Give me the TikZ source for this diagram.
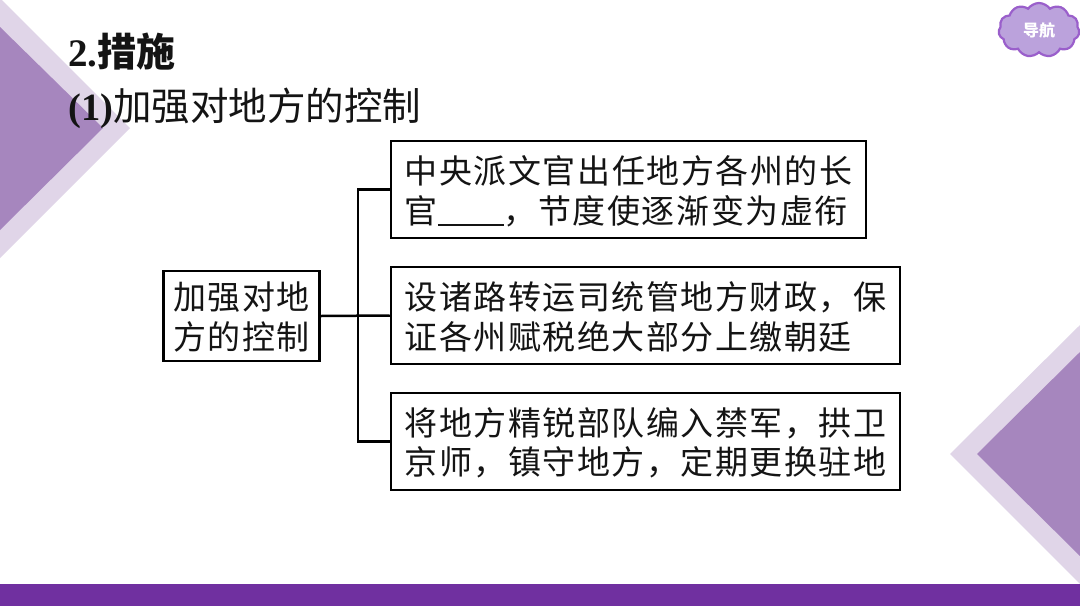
\documentclass[tikz,border=0pt]{standalone}
\usepackage{fontspec}
\usetikzlibrary{shapes.symbols}
\setmainfont{Liberation Serif}
\newfontfamily\cjk{Noto Sans CJK SC}
\newfontfamily\cjkbox[LetterSpace=4.6]{Noto Sans CJK SC}
\definecolor{lightpurple}{HTML}{E0D5E8}
\definecolor{midpurple}{HTML}{A686BE}
\definecolor{barpurple}{HTML}{7030A0}
\definecolor{cloudfill}{HTML}{BBA2DC}
\definecolor{cloudline}{HTML}{9A5FCB}
\newcommand\boxlines[1]{\vbox{\kern11pt\hbox{\begin{tabular}{@{}l@{}}#1\end{tabular}}}}
\tikzset{
  boxnode/.style={draw=black,line width=2.5pt,fill=white,inner sep=0pt,
    text=black!92,font=\cjkbox\fontsize{33}{38.5}\selectfont},
  link/.style={draw=black,line width=2.5pt,line join=miter},
  titletext/.style={anchor=west,inner sep=0pt,text=black!92}
}
\begin{document}
\begin{tikzpicture}[x=1pt,y=-1pt]
\useasboundingbox (0,0) rectangle (1080,606);
\fill[white] (0,0) rectangle (1080,606);
% decorations
\fill[lightpurple] (0,0) -- (2,0) -- (130,128) -- (0,258) -- cycle;
\fill[midpurple] (0,27) -- (103,128) -- (0,230) -- cycle;
\fill[lightpurple] (1080,325) -- (950,454) -- (1080,584) -- cycle;
\fill[midpurple] (1080,352) -- (977,454) -- (1080,556) -- cycle;
\fill[barpurple] (0,584) rectangle (1080,606);
% title
\node[titletext,font=\fontsize{39}{41}\selectfont\bfseries] (t1) at (68,52) {2.{\cjk 措施}};
\node[titletext,font=\fontsize{38.5}{41}\selectfont] (t2) at (68,108) {\textbf{(1)}{\cjk 加强对地方的控制}};
% nav cloud
\node[cloud,cloud puffs=11,cloud puff arc=110,aspect=1.5,draw=cloudline,line width=2.2pt,fill=cloudfill,
  minimum width=81pt,minimum height=54pt,inner sep=0pt,text=white,
  font=\cjk\fontsize{16}{16}\selectfont\bfseries] (nav) at (1039,30) {导航};
% boxes
\node[boxnode,minimum width=156pt,minimum height=89pt] (root) at (241.5,316) {\boxlines{加强对地\\方的控制}};
\node[boxnode,minimum width=475pt,minimum height=97pt] (b1) at (628.5,189.5) {\boxlines{中央派文官出任地方各州的长\\官\rule[-3pt]{66pt}{2pt}，节度使逐渐变为虚衔}};
\node[boxnode,minimum width=509pt,minimum height=97pt] (b2) at (645.5,315.5) {\boxlines{设诸路转运司统管地方财政，保\\证各州赋税绝大部分上缴朝廷}};
\node[boxnode,minimum width=509pt,minimum height=97pt] (b3) at (645.5,441.5) {\boxlines{将地方精锐部队编入禁军，拱卫\\京师，镇守地方，定期更换驻地}};
% connectors
\coordinate (sp) at (358,316);
\draw[link] (root.east) -- (b2.west);
\draw[link] (b1.west) -| (sp);
\draw[link] (b3.west) -| (sp);
\end{tikzpicture}
\end{document}
